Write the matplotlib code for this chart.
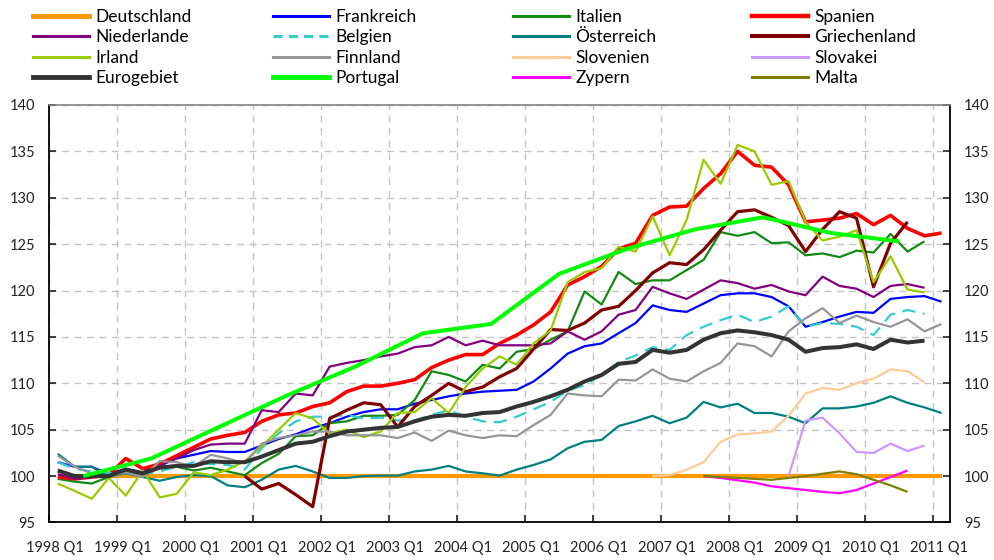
import matplotlib
matplotlib.use("Agg")
import matplotlib.pyplot as plt
from matplotlib.lines import Line2D
from matplotlib.transforms import ScaledTranslation

plt.rcParams['font.family'] = ['Lato', 'DejaVu Sans']

# quarterly index values, first quarter of each series given in start_q
deutschland = [100.0] * 53
frankreich = [101.5, 101.0, 101.0, 100.2, 100.8, 100.4, 101.5, 101.9, 102.3, 102.7,
              102.6, 102.6, 103.3, 104.0, 104.5, 105.2, 105.7, 106.4, 106.9, 107.2,
              107.2, 107.8, 108.2, 108.6, 108.9, 109.1, 109.2, 109.3, 110.2, 111.6,
              113.2, 114.0, 114.3, 115.4, 116.5, 118.4, 117.9, 117.7, 118.6, 119.5,
              119.7, 119.7, 119.3, 118.3, 116.1, 116.6, 117.2, 117.7, 117.6, 119.1,
              119.3, 119.4, 118.8]
italien = [99.7, 99.4, 99.2, 99.9, 100.6, 100.2, 101.1, 101.0, 100.6, 100.9,
           100.5, 100.1, 101.4, 102.4, 104.3, 104.4, 105.7, 105.9, 106.5, 106.5,
           106.6, 108.2, 111.3, 110.9, 110.2, 112.0, 111.6, 113.4, 113.7, 114.7,
           115.6, 119.9, 118.5, 122.0, 120.7, 121.1, 121.1, 122.2, 123.3, 126.3,
           125.9, 126.3, 125.1, 125.2, 123.8, 124.0, 123.6, 124.3, 124.1, 126.1,
           124.2, 125.3]
spanien = [99.9, 99.7, 99.9, 100.1, 101.9, 100.8, 101.3, 102.2, 103.1, 104.0,
           104.4, 104.7, 105.9, 106.6, 106.8, 107.5, 107.9, 109.1, 109.7, 109.7,
           110.0, 110.4, 111.7, 112.5, 113.1, 113.1, 114.3, 115.2, 116.3, 117.7,
           120.6, 121.5, 122.6, 124.5, 125.1, 128.1, 129.0, 129.1, 131.0, 132.6,
           135.0, 133.5, 133.3, 131.4, 127.4, 127.6, 127.8, 128.3, 127.1, 128.1,
           126.7, 125.9, 126.2]
niederlande = [100.2, 99.7, 99.9, 100.2, 100.6, 99.9, 101.1, 101.9, 102.8, 103.4,
               103.5, 103.5, 107.1, 106.9, 108.9, 108.7, 111.8, 112.2, 112.5, 112.9,
               113.2, 113.9, 114.1, 115.0, 114.1, 114.6, 114.1, 114.1, 114.1, 114.3,
               115.6, 114.7, 115.6, 117.4, 117.9, 120.4, 119.7, 119.1, 120.1, 121.1,
               120.8, 120.2, 120.6, 119.9, 119.5, 121.5, 120.5, 120.2, 119.3, 120.5,
               120.7, 120.3]
belgien = [101.5, 100.8, 100.5, 100.3, 100.5, 100.2, 100.5, 101.0, 101.5, 101.3,
           101.2, 100.7, 103.0, 104.6, 105.9, 106.4, 106.4, 106.6, 106.2, 106.3,
           106.0, 106.0, 106.6, 107.1, 106.4, 105.9, 105.8, 106.4, 107.2, 108.0,
           109.2, 109.8, 110.9, 112.3, 113.0, 113.9, 113.6, 115.2, 116.1, 116.8,
           117.4, 116.6, 117.2, 118.3, 116.1, 116.5, 116.4, 116.1, 115.2, 117.4,
           117.9, 117.5]
oesterreich = [102.4, 101.0, 101.0, 99.9, 100.3, 99.9, 99.5, 99.9, 100.1, 100.0,
               99.0, 98.8, 99.6, 100.7, 101.1, 100.5, 99.8, 99.8, 100.0, 100.05,
               100.05, 100.5, 100.7, 101.1, 100.5, 100.3, 100.05, 100.7, 101.2, 101.8,
               103.0, 103.7, 103.9, 105.4, 105.9, 106.5, 105.7, 106.3, 108.0, 107.4,
               107.8, 106.8, 106.8, 106.4, 105.7, 107.3, 107.3, 107.5, 107.9, 108.6,
               107.9, 107.4, 106.8]
griechenland = [100.0, 98.6, 99.2, 98.0, 96.7, 106.2, 107.1, 107.9, 107.7, 105.3,
                107.5, 108.7, 110.0, 109.1, 109.6, 110.7, 111.6, 113.7, 115.8, 115.7,
                116.5, 117.9, 118.3, 120.0, 121.9, 123.0, 122.8, 124.4, 126.5, 128.5,
                128.7, 127.9, 127.0, 124.2, 126.6, 128.5, 127.8, 120.4, 125.1, 127.4]
irland = [99.2, 98.4, 97.55, 99.8, 97.9, 100.6, 97.7, 98.1, 100.4, 100.1,
          100.7, 101.6, 103.2, 105.0, 106.8, 106.2, 104.6, 105.0, 104.2, 104.8,
          106.8, 106.9, 108.4, 106.8, 109.6, 111.6, 112.9, 112.0, 114.3, 115.7,
          120.9, 122.0, 122.4, 124.7, 124.2, 128.0, 123.8, 127.6, 134.1, 131.5,
          135.7, 135.0, 131.4, 131.8, 127.4, 125.4, 125.8, 126.5, 120.9, 123.7,
          120.1, 119.8]
finnland = [102.2, 101.0, 100.3, 99.9, 100.4, 99.9, 101.6, 101.5, 101.0, 102.3,
            101.9, 101.4, 103.5, 104.1, 104.4, 104.8, 104.8, 104.4, 104.4, 104.4,
            104.1, 104.7, 103.8, 104.9, 104.4, 104.1, 104.4, 104.3, 105.5, 106.6,
            108.9, 108.7, 108.6, 110.4, 110.3, 111.5, 110.5, 110.2, 111.3, 112.2,
            114.3, 114.0, 112.9, 115.6, 117.0, 118.1, 116.5, 117.3, 116.6, 116.1,
            116.9, 115.6, 116.4]
slovenien = [100.0, 100.1, 100.7, 101.5, 103.7, 104.5, 104.6, 104.8, 106.5, 108.9,
             109.5, 109.3, 110.0, 110.5, 111.5, 111.3, 110.1]
slovakei = [100.0, 106.0, 106.3, 104.6, 102.6, 102.5, 103.5, 102.7, 103.3]
eurogebiet = [100.6, 100.0, 100.0, 100.0, 100.7, 100.3, 100.9, 101.1, 101.1, 101.6,
              101.5, 101.5, 102.1, 102.8, 103.5, 103.7, 104.3, 104.8, 105.0, 105.2,
              105.3, 105.9, 106.4, 106.6, 106.5, 106.8, 106.9, 107.5, 108.0, 108.6,
              109.3, 110.2, 110.9, 112.1, 112.3, 113.6, 113.3, 113.6, 114.7, 115.4,
              115.7, 115.5, 115.2, 114.7, 113.4, 113.8, 113.9, 114.2, 113.7, 114.7,
              114.4, 114.6]
zypern = [100.0, 99.8, 99.55, 99.3, 98.9, 98.7, 98.5, 98.3, 98.15, 98.5, 99.2, 99.9, 100.6]
malta = [100.0, 99.9, 99.8, 99.7, 99.6, 99.8, 100.0, 100.25, 100.5, 100.2, 99.6, 99.0, 98.3]

# Portugal only has annual values (plotted mid-year)
portugal_years = [1998, 1999, 2000, 2001, 2002, 2003, 2004, 2005, 2006, 2007, 2008, 2009, 2010]
portugal = [100.0, 101.9, 105.3, 108.7, 111.8, 115.4, 116.4, 121.8, 124.5, 126.6, 127.9, 126.2, 125.3]

start_q = {"Deutschland": "1998Q1", "Frankreich": "1998Q1", "Italien": "1998Q1",
           "Spanien": "1998Q1", "Niederlande": "1998Q1", "Belgien": "1998Q1",
           "Österreich": "1998Q1", "Griechenland": "2000Q4", "Irland": "1998Q1",
           "Finnland": "1998Q1", "Slovenien": "2006Q4", "Slovakei": "2008Q4",
           "Eurogebiet": "1998Q1", "Zypern": "2007Q3", "Malta": "2007Q3"}

series = [
    ("Deutschland", deutschland, "#FF9900", 3.0, "-"),
    ("Frankreich", frankreich, "#0000FF", 1.6, "-"),
    ("Italien", italien, "#138A13", 1.6, "-"),
    ("Spanien", spanien, "#FF0000", 2.6, "-"),
    ("Niederlande", niederlande, "#800080", 1.6, "-"),
    ("Belgien", belgien, "#33CCCC", 1.6, "--"),
    ("Österreich", oesterreich, "#008080", 1.6, "-"),
    ("Griechenland", griechenland, "#800000", 2.3, "-"),
    ("Irland", irland, "#99CC00", 1.6, "-"),
    ("Finnland", finnland, "#969696", 1.6, "-"),
    ("Slovenien", slovenien, "#FFCC99", 1.6, "-"),
    ("Slovakei", slovakei, "#CC99FF", 1.6, "-"),
    ("Eurogebiet", eurogebiet, "#333333", 2.9, "-"),
    ("Portugal", portugal, "#00FF00", 2.9, "-"),
    ("Zypern", zypern, "#FF00FF", 1.6, "-"),
    ("Malta", malta, "#808000", 1.6, "-"),
]


def quarter_x(start, n):
    year, q = int(start[:4]), int(start[-1])
    first = (year - 1998) * 4 + q - 1
    return [1998 + (first + k + 0.5) / 4 for k in range(n)]


fig = plt.figure(figsize=(9.95, 5.6), dpi=100)
ax = fig.add_axes([0.0495, 0.067, 0.9053, 0.7455])

handles = {}
for name, vals, color, lw, ls in series:
    if name == "Portugal":
        xs = [y + 0.5 for y in portugal_years]
    else:
        xs = quarter_x(start_q[name], len(vals))
    line, = ax.plot(xs, vals, color=color, lw=lw, linestyle=ls, solid_capstyle="butt")
    if ls == "--":
        line.set_dashes((6, 3.5))
    handles[name] = Line2D([], [], color=color, lw=lw + 0.6, linestyle=ls,
                           dashes=(3, 2) if ls == "--" else (None, None))

ax.set_xlim(1998, 2011.25)
ax.set_ylim(95, 140)
ax.set_yticks(range(95, 141, 5))
ax.set_xticks(range(1998, 2012))
ax.set_xticklabels(["{} Q1".format(y) for y in range(1998, 2012)])
ax.grid(True, color="#C4C4C4", linestyle=(0, (5, 4)), linewidth=1.0)
ax.set_axisbelow(True)

ax.tick_params(axis="both", direction="in", length=5, width=1.2, labelsize=10.5,
               colors="#222222")
ax.tick_params(axis="y", right=True, labelright=True, pad=10)
ax.tick_params(axis="x", pad=13)
# the quarter labels sit a little right of their ticks
shift = ScaledTranslation(0.06, 0, fig.dpi_scale_trans)
for lab in ax.get_xticklabels():
    lab.set_transform(lab.get_transform() + shift)
for side in ["left", "right", "bottom"]:
    ax.spines[side].set_linewidth(1.3)
    ax.spines[side].set_color("black")
ax.spines["top"].set_color("#808080")
ax.spines["top"].set_linewidth(1.2)

# legend: four columns placed by hand, rows read left to right
order = [s[0] for s in series]
col_x = [33, 273, 513, 752]
for c in range(4):
    names = [order[c + 4 * r] for r in range(4)]
    fig.legend([handles[n] for n in names], names, loc="upper left",
               bbox_to_anchor=(col_x[c] / 995, 1 - 9 / 560), frameon=False,
               fontsize=12.5, handlelength=3.2, handletextpad=0.4,
               labelspacing=0.25, borderpad=0, borderaxespad=0)

fig.savefig("out.png", dpi=100)
